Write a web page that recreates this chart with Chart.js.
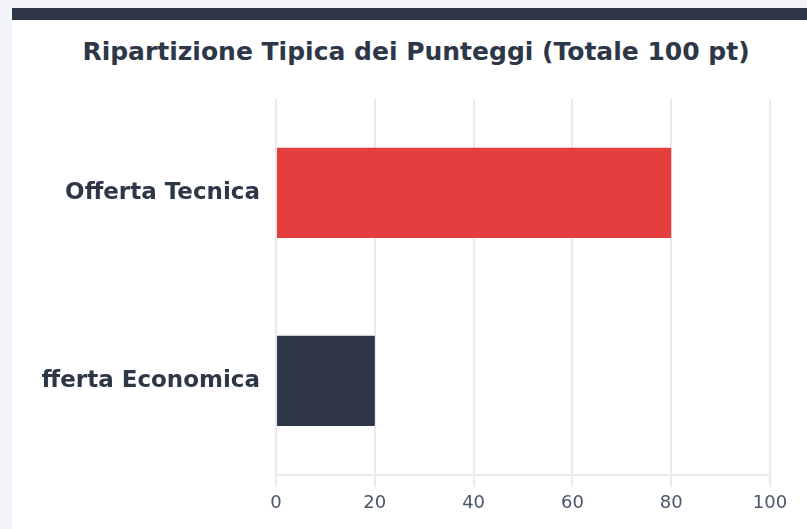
<!DOCTYPE html>
<html lang="it">
<head>
<meta charset="utf-8">
<title>Ripartizione Tipica dei Punteggi</title>
<script src="https://cdn.jsdelivr.net/npm/chart.js@4.4.0/dist/chart.umd.min.js"></script>
<style>
  html, body { margin: 0; padding: 0; }
  body {
    width: 807px;
    height: 529px;
    overflow: hidden;
    background: #f4f5f9;
    position: relative;
    font-family: "DejaVu Sans", sans-serif;
  }
  .card {
    position: absolute;
    left: 12px;
    top: 8px;
    width: 808px;
    height: 540px;
    background: #ffffff;
    border-top: 12px solid #2d3748;
  }
  .card h2 {
    position: absolute;
    left: 0;
    right: 0;
    top: 17px;
    margin: 0;
    text-align: center;
    font-size: 25px;
    font-weight: bold;
    color: #2d3748;
  }
  .chart-box {
    position: absolute;
    left: 30px;
    top: 57px;
    width: 758px;
    height: 452px;
  }
</style>
</head>
<body>
<div class="card">
  <h2>Ripartizione Tipica dei Punteggi (Totale 100 pt)</h2>
  <div class="chart-box"><canvas id="graficoPunteggi"></canvas></div>
</div>
<script>
const categorie = ["Offerta Tecnica", "Offerta Economica"];
const punteggi = [80, 20];
const coloriBarre = ["#e53e3e", "#2d3748"];
const tickAsseX = [0, 20, 40, 60, 80, 100];

document.addEventListener("DOMContentLoaded", () => {
  const canvas = document.getElementById("graficoPunteggi");
  if (!canvas) {
    console.warn("Canvas non trovato");
    return;
  }
  const ctx = canvas.getContext("2d");

  new Chart(ctx, {
    type: "bar",
    data: {
      labels: categorie,
      datasets: [{
        label: "Punti",
        data: punteggi,
        backgroundColor: coloriBarre,
        borderWidth: 0,
        barPercentage: 0.6,
        categoryPercentage: 0.8
      }]
    },
    options: {
      indexAxis: "y",
      responsive: true,
      maintainAspectRatio: false,
      animation: false,
      layout: { padding: { top: 3, right: 30, bottom: 0, left: 0 } },
      plugins: {
        legend: { display: false },
        tooltip: { enabled: false }
      },
      scales: {
        x: {
          min: 0,
          max: 100,
          afterBuildTicks: (scale) => {
            scale.ticks = tickAsseX.map((v) => ({ value: v }));
          },
          afterFit: (scale) => { scale.height = 54; },
          grid: { color: "#e8eaf0", lineWidth: 2, tickLength: 12 },
          border: { color: "#e8eaf0", width: 2 },
          ticks: {
            color: "#4a5568",
            padding: 6,
            font: { family: "DejaVu Sans", size: 18 }
          }
        },
        y: {
          afterFit: (scale) => { scale.width = 234; },
          grid: { display: false },
          border: { display: false },
          ticks: {
            color: "#2d3748",
            padding: 8,
            font: { family: "DejaVu Sans", size: 23, weight: "bold" }
          }
        }
      }
    }
  });
});
</script>
</body>
</html>
